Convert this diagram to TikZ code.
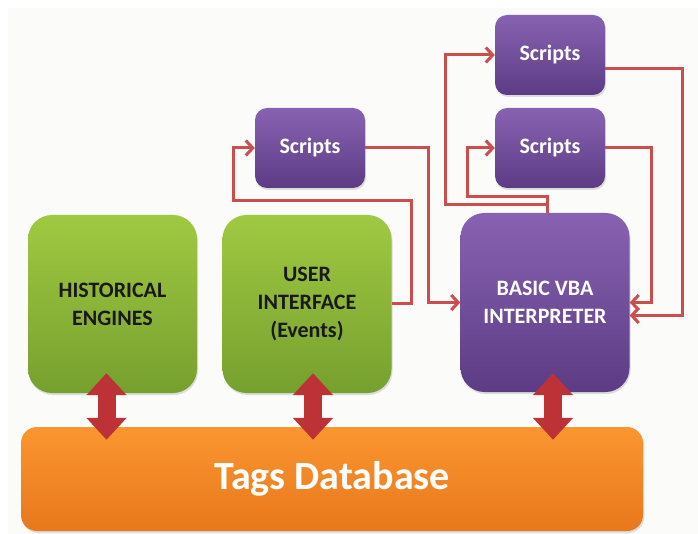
\documentclass[tikz,border=0pt]{standalone}
\usepackage{fontspec}
\setmainfont{Carlito}
\usetikzlibrary{arrows.meta,calc,shadows}
\definecolor{flowred}{RGB}{204,78,76}
\definecolor{greentop}{RGB}{160,201,66}
\definecolor{greenbot}{RGB}{118,160,46}
\definecolor{purptop}{RGB}{136,98,178}
\definecolor{purpbot}{RGB}{92,60,132}
\definecolor{orangetop}{RGB}{250,150,48}
\definecolor{orangebot}{RGB}{232,120,28}
\definecolor{dblred}{RGB}{188,50,54}
\definecolor{panel}{RGB}{251,252,250}

\begin{document}
\begin{tikzpicture}[x=1pt,y=-1pt,
    engine/.style={rounded corners=24pt,top color=greentop,bottom color=greenbot,
      minimum width=169pt,minimum height=178pt,align=center,text=black!90,inner sep=0pt,
      font=\bfseries\fontsize{22}{28}\selectfont,
      drop shadow={opacity=0.25,shadow xshift=1pt,shadow yshift=-2pt}},
    interp/.style={engine,top color=purptop,bottom color=purpbot,text=white},
    scriptbox/.style={rounded corners=12pt,top color=purptop,bottom color=purpbot,
      minimum width=110pt,minimum height=80pt,text=white,inner sep=0pt,
      font=\bfseries\fontsize{22}{26}\selectfont,
      drop shadow={opacity=0.25,shadow xshift=1pt,shadow yshift=-2pt}},
    database/.style={rounded corners=16pt,top color=orangetop,bottom color=orangebot,
      minimum width=622pt,minimum height=104pt,text=white,inner sep=0pt,
      font=\bfseries\fontsize{40}{44}\selectfont,
      drop shadow={opacity=0.25,shadow xshift=1pt,shadow yshift=-2pt}},
    flow/.style={flowred,line width=3pt,-{Straight Barb[length=7pt,width=15pt]}},
    dbl/.style={dblred,line width=18pt,
      arrows={Triangle[length=22pt,width=39pt]-Triangle[length=22pt,width=39pt]}}
  ]
    \useasboundingbox (0,0) rectangle (698,534);
    \fill[white] (0,0) rectangle (698,534);
    \fill[panel] (8,8) rectangle (698,534);

    % boxes
    \node[engine] (hist) at (112.5,304) {HISTORICAL\\ENGINES};
    \node[engine] (ui) at (307,304) {USER\\INTERFACE\\(Events)};
    \node[interp, minimum height=179pt] (vba) at (545,302.5) {BASIC VBA\\INTERPRETER};
    \node[database] (tags) at (332,479) {Tags Database};

    \node[scriptbox] (scrL) at (310,148) {Scripts};
    \node[scriptbox] (scrT) at (550,55) {Scripts};
    \node[scriptbox] (scrM) at (550,148) {Scripts};

    % script calls
    \draw[flow] (ui.east) -- ++(20,0) |- (233,201) |- (scrL.west);
    \draw[flow] (scrL.east) -- (428,148) |- (vba.west);
    \draw[flow] ($(vba.north)+(2,0)$) |- (467,197) |- (scrM.west);
    \draw[flow] ($(vba.north)+(2,0)$) |- (445,205) |- (scrT.west);
    \draw[flow] (scrM.east) -- (651,148) |- (vba.east);
    \draw[flow] ($(scrT.east)+(0,14)$) -- (682,69) |- ($(vba.east)+(0,13)$);

    % database links
    \draw[dbl] ($(hist.south)+(-6,-20)$) -- ($(hist.south |- tags.north)+(-6,13)$);
    \draw[dbl] ($(ui.south)+(6,-20)$) -- ($(ui.south |- tags.north)+(6,13)$);
    \draw[dbl] ($(vba.south)+(8,-19)$) -- ($(vba.south |- tags.north)+(8,13)$);

  \end{tikzpicture}
\end{document}
